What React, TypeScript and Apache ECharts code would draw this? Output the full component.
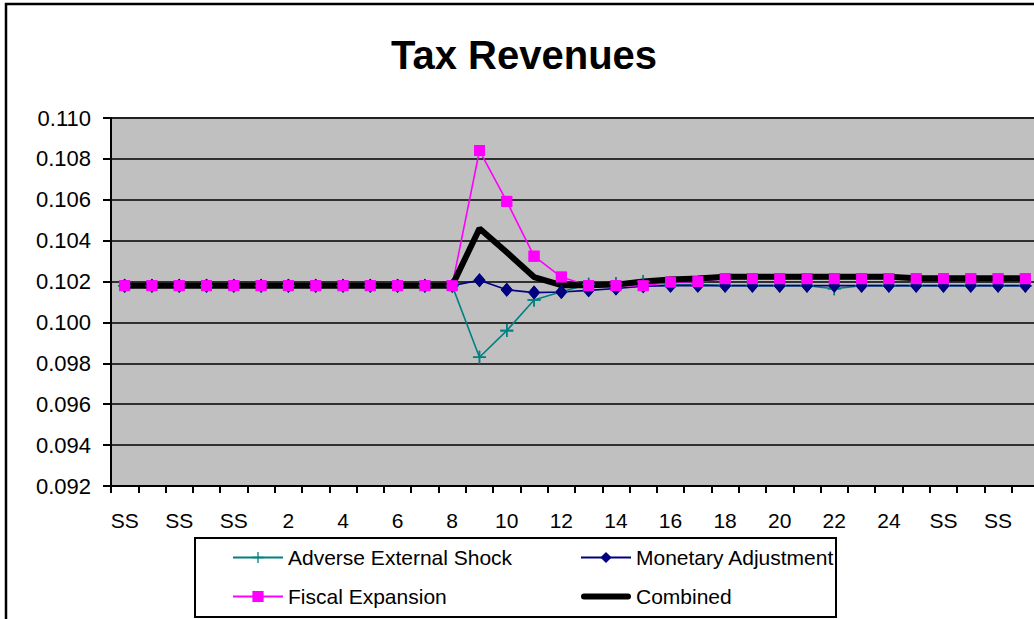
import React, { useEffect, useRef } from "react";
import * as echarts from "echarts";

const categories = [
  "SS", "SS", "SS", "SS", "SS",
  "1", "2", "3", "4", "5", "6", "7", "8", "9", "10", "11", "12", "13",
  "14", "15", "16", "17", "18", "19", "20", "21", "22", "23", "24", "25",
  "SS", "SS", "SS", "SS",
];

const adverseShock = [
  0.1018, 0.1018, 0.1018, 0.1018, 0.1018, 0.1018, 0.1018, 0.1018, 0.1018, 0.1018,
  0.1018, 0.1018, 0.1018, 0.0983, 0.0996, 0.1011, 0.1015, 0.10187, 0.1019, 0.1020,
  0.10185, 0.10185, 0.1018, 0.1018, 0.1018, 0.1018, 0.10165, 0.1018, 0.1018, 0.1018,
  0.1018, 0.1018, 0.1018, 0.1018,
];

const monetaryAdjustment = [
  0.1018, 0.1018, 0.1018, 0.1018, 0.1018, 0.1018, 0.1018, 0.1018, 0.1018, 0.1018,
  0.1018, 0.1018, 0.1018, 0.10206, 0.1016, 0.10146, 0.10149, 0.10157, 0.10166, 0.10177,
  0.1018, 0.1018, 0.1018, 0.1018, 0.1018, 0.1018, 0.1018, 0.1018, 0.1018, 0.1018,
  0.1018, 0.1018, 0.1018, 0.1018,
];

const fiscalExpansion = [
  0.1018, 0.1018, 0.1018, 0.1018, 0.1018, 0.1018, 0.1018, 0.1018, 0.1018, 0.1018,
  0.1018, 0.1018, 0.1018, 0.10841, 0.10592, 0.10324, 0.10222, 0.1018, 0.1018, 0.1018,
  0.10197, 0.1020, 0.10214, 0.10214, 0.10214, 0.10214, 0.10214, 0.10214, 0.10214, 0.10214,
  0.10214, 0.10214, 0.10214, 0.10214,
];

const combined = [
  0.1018, 0.1018, 0.1018, 0.1018, 0.1018, 0.1018, 0.1018, 0.1018, 0.1018, 0.1018,
  0.1018, 0.1018, 0.1018, 0.10459, 0.10343, 0.10222, 0.10182, 0.10182, 0.10185, 0.1020,
  0.1021, 0.10215, 0.10223, 0.10223, 0.10223, 0.10223, 0.10223, 0.10223, 0.10223, 0.10216,
  0.10216, 0.10216, 0.10216, 0.10216,
];

const Y_MIN = 0.092;
const Y_MAX = 0.11;
const Y_STEP = 0.002;

const FONT = "'Liberation Sans', Arial, sans-serif";
const PLUS = "path://M5.3,0h1.4v5.3h5.3v1.4h-5.3v5.3h-1.4v-5.3h-5.3v-1.4h5.3z";
const THICK_LINE = "path://M3,0h44a3,3 0 0 1 0,6h-44a3,3 0 0 1 0,-6z";

const TEAL = "#008080";
const NAVY = "#000080";
const MAGENTA = "#FF00FF";

export default function App() {
  const ref = useRef<HTMLDivElement>(null);

  useEffect(() => {
    if (!ref.current) return;
    const chart = echarts.init(ref.current, undefined, { renderer: "svg" });

    const markerSpec = [
      { name: "Adverse External Shock", data: adverseShock, color: TEAL, symbol: PLUS, size: 13 },
      { name: "Monetary Adjustment", data: monetaryAdjustment, color: NAVY, symbol: "diamond", size: [12, 14] },
      { name: "Fiscal Expansion", data: fiscalExpansion, color: MAGENTA, symbol: "rect", size: 11 },
    ];

    const lineSeries = markerSpec.map((s) => ({
      name: s.name,
      type: "line",
      data: s.data,
      symbol: s.symbol,
      symbolSize: s.size,
      showSymbol: true,
      z: 2,
      lineStyle: { color: s.color, width: 1.6 },
      itemStyle: { color: s.color, borderWidth: 0 },
      emphasis: { disabled: true },
    }));

    const overlaySeries = markerSpec.map((s) => ({
      name: s.name + " markers",
      type: "line",
      data: s.data,
      symbol: s.symbol,
      symbolSize: s.size,
      showSymbol: true,
      z: 5,
      lineStyle: { color: s.color, width: 0, opacity: 0 },
      itemStyle: { color: s.color, borderWidth: 0 },
      emphasis: { disabled: true },
      silent: true,
    }));

    const legendText = { fontFamily: FONT, fontSize: 21, color: "#000", lineHeight: 20 };

    const option: any = {
      animation: false,
      backgroundColor: "#ffffff",
      textStyle: { fontFamily: FONT },
      title: {
        text: "Tax Revenues",
        left: 386,
        top: 30,
        textStyle: { fontFamily: FONT, fontSize: 40, fontWeight: "bold", color: "#000" },
      },
      graphic: [
        {
          type: "rect",
          z: -10,
          silent: true,
          shape: { x: 6, y: 4, width: 1100, height: 700 },
          style: { fill: "none", stroke: "#000", lineWidth: 2.5 },
        },
        {
          type: "rect",
          z: 0,
          silent: true,
          shape: { x: 195, y: 538, width: 641, height: 79 },
          style: { fill: "#fff", stroke: "#000", lineWidth: 2 },
        },
      ],
      legend: [
        {
          data: ["Adverse External Shock", "Fiscal Expansion"],
          orient: "vertical",
          left: 227,
          top: 542,
          itemWidth: 50,
          itemHeight: 14,
          itemGap: 18,
          selectedMode: false,
          textStyle: legendText,
        },
        {
          data: ["Monetary Adjustment", { name: "Combined", icon: THICK_LINE }],
          orient: "vertical",
          left: 575,
          top: 542,
          itemWidth: 50,
          itemHeight: 14,
          itemGap: 18,
          selectedMode: false,
          textStyle: legendText,
        },
      ],
      grid: {
        left: 111,
        top: 118,
        width: 928,
        height: 368,
        show: true,
        backgroundColor: "#C0C0C0",
        borderColor: "#808080",
        borderWidth: 2,
      },
      xAxis: {
        type: "category",
        data: categories,
        boundaryGap: true,
        axisLine: { show: true, lineStyle: { color: "#000", width: 2 } },
        axisTick: { show: true, interval: 0, length: 7, lineStyle: { color: "#000", width: 2 } },
        axisLabel: {
          interval: 1,
          margin: 24,
          fontFamily: FONT,
          fontSize: 21,
          color: "#000",
        },
        splitLine: { show: false },
      },
      yAxis: {
        type: "value",
        min: Y_MIN,
        max: Y_MAX,
        interval: Y_STEP,
        axisLine: { show: true, lineStyle: { color: "#000", width: 2 } },
        axisTick: { show: true, length: 8, lineStyle: { color: "#000", width: 2 } },
        axisLabel: {
          margin: 20,
          fontFamily: FONT,
          fontSize: 22,
          color: "#000",
          formatter: (v: number) => v.toFixed(3),
        },
        splitLine: { show: true, lineStyle: { color: "#000", width: 1.5 } },
      },
      series: [
        ...lineSeries,
        {
          name: "Combined",
          type: "line",
          data: combined,
          symbol: "none",
          showSymbol: false,
          z: 3,
          lineStyle: { color: "#000", width: 6 },
          itemStyle: { color: "#000" },
          emphasis: { disabled: true },
        },
        ...overlaySeries,
      ],
    };

    chart.setOption(option);
    return () => {
      chart.dispose();
    };
  }, []);

  return (
    <div
      style={{
        position: "fixed",
        left: 0,
        top: 0,
        width: 1034,
        height: 619,
        overflow: "hidden",
        background: "#fff",
      }}
    >
      <div ref={ref} style={{ width: 1060, height: 619 }} />
    </div>
  );
}
